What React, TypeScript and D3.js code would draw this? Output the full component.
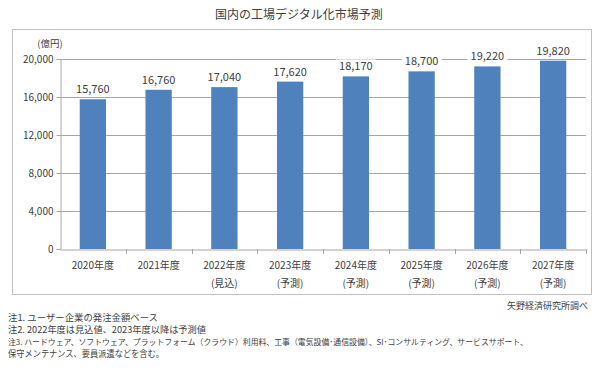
import * as d3 from 'd3';
import React, { useEffect, useRef } from 'react';

const categories = ['2020年度', '2021年度', '2022年度', '2023年度', '2024年度', '2025年度', '2026年度', '2027年度'];
const subLabels = ['', '', '(見込)', '(予測)', '(予測)', '(予測)', '(予測)', '(予測)'];
const values = [15760, 16760, 17040, 17620, 18170, 18700, 19220, 19820];
const yTicks = [0, 4000, 8000, 12000, 16000, 20000];
const notes = [
  '注1. ユーザー企業の発注金額ベース',
  '注2. 2022年度は見込値、2023年度以降は予測値',
  '注3. ハードウェア、ソフトウェア、プラットフォーム（クラウド）利用料、工事（電気設備･通信設備）、SI･コンサルティング、サービスサポート、',
  '保守メンテナンス、要員派遣などを含む。',
];
// approximate rendered widths of the note lines in the reference
const noteWidths = [150, 198, 520, 156];
const noteSizes = [9, 9, 8, 9];

const FONT = '"Noto Sans CJK JP", "Noto Sans", sans-serif';

const App = () => {
  const svgRef = useRef<SVGSVGElement>(null);

  useEffect(() => {
    const width = 600;
    const height = 388;
    const margin = { top: 59, right: 14, bottom: 139, left: 60 };

    const svg = d3.select(svgRef.current);
    svg.selectAll('*').remove();
    svg.attr('width', width).attr('height', height);

    svg.append('rect').attr('width', width).attr('height', height).attr('fill', '#fff');

    // Title
    svg.append('text')
      .attr('x', 299).attr('y', 19)
      .attr('text-anchor', 'middle')
      .style('font-size', '12px').style('font-family', FONT).attr('fill', '#404040')
      .text('国内の工場デジタル化市場予測');

    // Outer frame
    svg.append('rect')
      .attr('x', 12.5).attr('y', 29.5).attr('width', 579).attr('height', 265)
      .attr('fill', 'none').attr('stroke', '#bfbfbf');

    const x = d3.scaleBand()
      .domain(categories)
      .range([margin.left, width - margin.right])
      .paddingInner(0.6).paddingOuter(0.3);

    const band = d3.scaleBand().domain(categories).range([margin.left, width - margin.right]);

    const y = d3.scaleLinear().domain([0, 20000]).range([height - margin.bottom, margin.top]);

    // Gridlines
    svg.append('g')
      .selectAll('line')
      .data(yTicks.filter(d => d > 0))
      .enter().append('line')
      .attr('x1', margin.left).attr('x2', width - margin.right)
      .attr('y1', d => Math.round(y(d)) + 0.5).attr('y2', d => Math.round(y(d)) + 0.5)
      .attr('stroke', '#a6a6a6');

    // Y axis
    const yAxis = svg.append('g')
      .attr('transform', `translate(${margin.left + 0.5},0)`)
      .call(d3.axisLeft(y).tickValues(yTicks).tickSize(4).tickFormat(d3.format(',')));
    yAxis.select('.domain').attr('stroke', '#a6a6a6');
    yAxis.selectAll('.tick line').attr('stroke', '#a6a6a6');
    yAxis.selectAll('text')
      .style('font-size', '10px').style('font-family', FONT).attr('fill', '#404040');

    svg.append('text')
      .attr('x', 50).attr('y', 47)
      .attr('text-anchor', 'middle')
      .style('font-size', '9.5px').style('font-family', FONT).attr('fill', '#404040')
      .text('(億円)');

    // X axis
    const xAxis = svg.append('g')
      .attr('transform', `translate(0,${Math.round(y(0)) + 0.5})`)
      .call(d3.axisBottom(band).tickSize(0).tickFormat(() => ''));
    xAxis.select('.domain').attr('stroke', '#a6a6a6');
    svg.append('g')
      .selectAll('line')
      .data(categories)
      .enter().append('line')
      .attr('x1', (d, i) => Math.round(margin.left + band.step() * (i + 1)) + 0.5)
      .attr('x2', (d, i) => Math.round(margin.left + band.step() * (i + 1)) + 0.5)
      .attr('y1', Math.round(y(0))).attr('y2', Math.round(y(0)) + 5)
      .attr('stroke', '#a6a6a6');

    const labels = svg.append('g')
      .style('font-size', '10px').style('font-family', FONT).attr('fill', '#404040')
      .attr('text-anchor', 'middle');
    labels.selectAll('text.cat')
      .data(categories)
      .enter().append('text')
      .attr('class', 'cat')
      .attr('x', d => band(d)! + band.bandwidth() / 2)
      .attr('y', 269)
      .text(d => d);
    labels.selectAll('text.sub')
      .data(subLabels)
      .enter().append('text')
      .attr('class', 'sub')
      .attr('x', (d, i) => band(categories[i])! + band.bandwidth() / 2)
      .attr('y', 287)
      .text(d => d);

    // Bars
    svg.append('g')
      .selectAll('rect')
      .data(values)
      .enter().append('rect')
      .attr('x', (d, i) => x(categories[i])!)
      .attr('y', d => y(d))
      .attr('width', x.bandwidth())
      .attr('height', d => y(0) - y(d))
      .attr('fill', '#4f81bd');

    // Value labels with white background
    const vl = svg.append('g');
    values.forEach((v, i) => {
      const cx = band(categories[i])! + band.bandwidth() / 2;
      const ty = y(v) - 6;
      vl.append('rect')
        .attr('x', cx - 20).attr('y', ty - 11).attr('width', 40).attr('height', 14)
        .attr('fill', '#fff');
      vl.append('text')
        .attr('x', cx).attr('y', ty)
        .attr('text-anchor', 'middle')
        .style('font-size', '11px').style('font-family', FONT).attr('fill', '#404040')
        .text(d3.format(',')(v));
    });

    // Source
    svg.append('text')
      .attr('x', 588).attr('y', 309)
      .attr('text-anchor', 'end')
      .style('font-size', '9px').style('font-family', FONT).attr('fill', '#404040')
      .text('矢野経済研究所調べ');

    // Notes
    svg.append('g')
      .selectAll('text')
      .data(notes)
      .enter().append('text')
      .attr('x', 8)
      .attr('y', (d, i) => 321 + i * 12)
      .attr('textLength', (d, i) => noteWidths[i])
      .attr('lengthAdjust', 'spacingAndGlyphs')
      .style('font-size', (d, i) => `${noteSizes[i]}px`).style('font-family', FONT).attr('fill', '#404040')
      .text(d => d);
  }, []);

  return <svg ref={svgRef} style={{ position: 'absolute', left: 0, top: 0 }}></svg>;
};

export default App;
